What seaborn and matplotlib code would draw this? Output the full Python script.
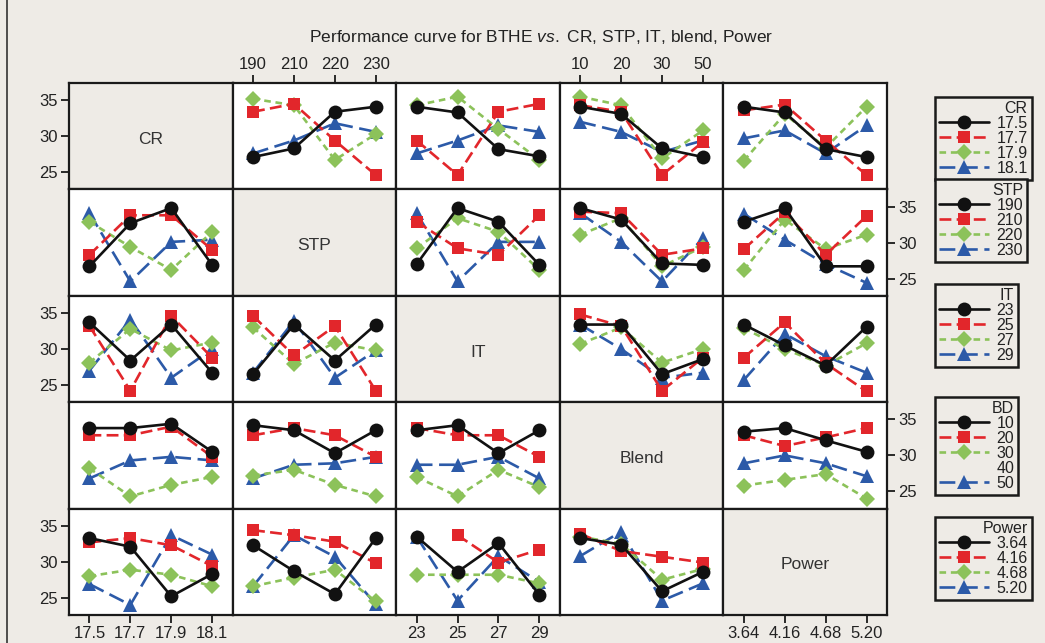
import numpy as np
import pandas as pd
import matplotlib
matplotlib.use("Agg")
import matplotlib.pyplot as plt
from matplotlib.lines import Line2D
import seaborn as sns

# factor names / levels
factors = ["CR", "STP", "IT", "Blend", "Power"]
legend_titles = ["CR", "STP", "IT", "BD", "Power"]
cr_levels = ["17.5", "17.7", "17.9", "18.1"]
stp_levels = ["190", "210", "220", "230"]
it_levels = ["23", "25", "27", "29"]
bd_levels = ["10", "20", "30", "50"]
pw_levels = ["3.64", "4.16", "4.68", "5.20"]
bd_legend_labels = ["10", "20", "30", "40", "50"]
levels = [cr_levels, stp_levels, it_levels, bd_levels, pw_levels]

nan = np.nan
# mean BTHE, rows = levels of the trace factor, columns = levels of the x factor
cr_by_stp = [[27.1, 28.3, 33.4, 34.1], [33.4, 34.5, 29.4, 24.6], [35.2, 34.3, 26.7, 30.3], [27.6, 29.4, 31.8, 30.6]]
cr_by_it = [[34.1, 33.3, 28.2, 27.2], [29.4, 24.6, 33.4, 34.5], [34.3, 35.5, 31.0, 26.7], [27.6, 29.4, 31.5, 30.6]]
cr_by_bd = [[34.1, 33.1, 28.3, 27.1], [34.3, 33.4, 24.6, 29.2], [35.5, 34.3, 26.9, 30.8], [32.0, 30.6, 27.8, 29.4]]
cr_by_pw = [[34.1, 33.3, 28.2, 27.1], [33.6, 34.4, 29.4, 24.6], [26.6, 33.1, 28.4, 34.1], [29.7, 30.8, 27.6, 31.5]]

stp_by_cr = [[26.7, 32.7, 34.8, 26.9], [28.3, 33.8, 33.8, 29.0], [32.9, 29.4, 26.2, 31.5], [34.1, 24.6, 30.1, 30.4]]
stp_by_it = [[27.0, 34.8, 32.9, 26.9], [32.9, 29.2, 28.3, 33.8], [29.2, 33.4, 31.5, 26.2], [34.1, 24.6, 30.1, 30.1]]
stp_by_bd = [[34.8, 33.2, 27.1, 26.9], [34.3, 34.1, 28.3, 29.2], [31.1, 33.4, 26.7, 29.4], [34.1, 30.1, 24.6, 30.6]]
stp_by_pw = [[32.9, 34.8, 26.7, 26.7], [29.1, 34.2, 28.3, 33.7], [26.2, 33.2, 29.1, 31.1], [34.0, 30.4, 27.0, 24.4]]

it_by_cr = [[33.7, 28.4, 33.4, 26.7], [33.2, 24.2, 34.6, 28.8], [28.1, 32.8, 29.8, 30.9], [27.0, 34.1, 26.0, 30.0]]
it_by_stp = [[26.5, 33.4, 28.4, 33.4], [34.6, 29.1, 33.2, 24.2], [33.0, 27.9, 30.9, 29.8], [26.7, 33.9, 26.0, 29.8]]
it_by_bd = [[33.4, 33.4, 26.5, 28.6], [34.8, 33.2, 24.2, 28.8], [30.7, 33.0, 28.1, 30.0], [33.4, 30.0, 26.0, 26.7]]
it_by_pw = [[33.4, 30.5, 27.7, 33.1], [28.8, 33.7, 28.0, 24.1], [32.9, 30.0, 27.7, 30.8], [25.7, 32.1, 29.0, 26.7]]

bd_by_cr = [[33.8, 33.8, 34.4, 30.5], [32.8, 32.8, 34.0, 29.8], [28.2, 24.3, 25.9, 27.0], [26.8, 29.3, 29.8, 29.3]]
bd_by_stp = [[34.2, 33.5, 30.3, 33.5], [32.8, 33.8, 32.8, 29.8], [27.2, 28.0, 25.9, 24.3], [26.8, 28.7, 28.9, 29.8]]
bd_by_it = [[33.5, 34.2, 30.3, 33.5], [33.8, 32.8, 32.8, 29.8], [27.0, 24.3, 28.0, 25.6], [28.7, 28.7, 29.8, 26.8]]
bd_by_pw = [[33.3, 33.8, 32.1, 30.5], [32.8, 31.3, 32.5, 33.8], [25.8, 26.6, 27.4, 24.0], [28.9, 30.0, 28.9, 27.1]]

pw_by_cr = [[33.3, 32.1, 25.2, 28.3], [32.7, 33.3, 32.3, 29.4], [28.0, 28.9, 28.2, 26.6], [26.9, 24.0, 33.7, 31.0]]
pw_by_stp = [[32.3, 28.7, 25.5, 33.3], [34.4, 33.7, 32.8, 29.8], [26.6, 27.8, 28.9, 24.5], [26.6, 33.7, 30.7, 24.1]]
pw_by_it = [[33.5, 28.6, 32.6, 25.4], [nan, 33.7, 29.9, 31.7], [28.2, 28.2, 28.2, 27.0], [33.5, 24.6, 30.8, 27.2]]
pw_by_bd = [[33.3, 32.4, 25.9, 28.6], [33.9, 31.5, 30.7, 29.9], [33.5, 32.5, 27.5, 29.0], [30.8, 34.2, 24.6, 27.0]]

panels = {
    (0, 1): cr_by_stp, (0, 2): cr_by_it, (0, 3): cr_by_bd, (0, 4): cr_by_pw,
    (1, 0): stp_by_cr, (1, 2): stp_by_it, (1, 3): stp_by_bd, (1, 4): stp_by_pw,
    (2, 0): it_by_cr, (2, 1): it_by_stp, (2, 3): it_by_bd, (2, 4): it_by_pw,
    (3, 0): bd_by_cr, (3, 1): bd_by_stp, (3, 2): bd_by_it, (3, 4): bd_by_pw,
    (4, 0): pw_by_cr, (4, 1): pw_by_stp, (4, 2): pw_by_it, (4, 3): pw_by_bd,
}

colors = ["#111111", "#E2262B", "#8CC25A", "#2C5AA8"]
marks = ["o", "s", "D", "^"]
msizes = {"o": 10, "s": 8, "D": 8.5, "^": 10}
dash_list = ["", (4.5, 2), (2.5, 1.8), (6, 2.5)]

sns.set_theme(style="ticks")
plt.rcParams["font.family"] = ["Liberation Sans", "DejaVu Sans"]
plt.rcParams["mathtext.fontset"] = "custom"
plt.rcParams["mathtext.rm"] = "Liberation Sans"
plt.rcParams["mathtext.it"] = "Liberation Sans:italic"

bg = "#EEEBE6"
W, H = 1045, 643
fig, axes = plt.subplots(5, 5, figsize=(W / 100, H / 100), dpi=100,
                         gridspec_kw=dict(left=69 / W, right=887 / W, top=1 - 83 / H,
                                          bottom=1 - 615 / H, wspace=0, hspace=0))
fig.patch.set_facecolor(bg)

for r in range(5):
    for c in range(5):
        ax = axes[r, c]
        if r == c:
            ax.set_facecolor(bg)
            ax.text(0.5, 0.47, factors[r], transform=ax.transAxes, ha="center", va="center",
                    fontsize=12.5, color="#333333")
        else:
            ax.set_facecolor("white")
            tr = levels[r]
            vals = np.array(panels[(r, c)], dtype=float)
            df = pd.DataFrame({
                "pos": np.tile(np.arange(4), 4),
                "level": np.repeat(tr, 4),
                "bthe": vals.ravel(),
            })
            order = tr[::-1]
            sns.lineplot(data=df, x="pos", y="bthe", hue="level", style="level",
                         hue_order=order, style_order=order,
                         palette=dict(zip(tr, colors)), markers=dict(zip(tr, marks)),
                         dashes=dict(zip(tr, dash_list)), estimator=None, sort=False,
                         lw=1.9, markeredgewidth=0, legend=False, ax=ax)
            for ln in ax.lines:
                ln.set_markersize(msizes.get(ln.get_marker(), 9))
        ax.set_xlim(-0.5, 3.5)
        ax.set_ylim(22.6, 37.4)
        ax.set_xlabel("")
        ax.set_ylabel("")
        ax.set_xticks([])
        ax.set_yticks([])
        for s in ax.spines.values():
            s.set_color("#1a1a1a")
            s.set_linewidth(1.6)

        tick_kw = dict(length=6, width=1.3, color="#1a1a1a", labelsize=12, labelcolor="#222222", pad=2)
        if r == 4 and c in (0, 2, 4):
            ax.set_xticks(range(4), levels[c])
            ax.tick_params(axis="x", bottom=True, **tick_kw)
        if r == 0 and c in (1, 3):
            ax.xaxis.tick_top()
            ax.set_xticks(range(4), levels[c])
            ax.tick_params(axis="x", top=True, **tick_kw)
        if c == 0 and r in (0, 2, 4):
            ax.set_yticks([25, 30, 35])
            ax.tick_params(axis="y", left=True, **tick_kw)
        if c == 4 and r in (1, 3):
            ax.yaxis.tick_right()
            ax.set_yticks([25, 30, 35])
            ax.tick_params(axis="y", right=True, **tick_kw)

fig.text(541 / W, 1 - 37 / H, r"Performance curve for BTHE $\it{vs.}$ CR, STP, IT, blend, Power",
         ha="center", va="center", fontsize=12.5, color="#222222")

# legends, one per row
legend_tops = [97, 179, 284, 397, 517]
for r in range(5):
    handles = [Line2D([], [], color=colors[k], marker=marks[k], markersize=msizes[marks[k]],
                      markeredgewidth=0, lw=1.9,
                      ls="-" if k == 0 else (0, dash_list[k]))
               for k in range(4)]
    labels = list(levels[r])
    if r == 3:
        blank = Line2D([], [], color="none", lw=0)
        handles = handles[:3] + [blank, handles[3]]
        labels = bd_legend_labels
    lg = fig.legend(handles, labels, title=legend_titles[r], loc="upper left",
                    bbox_to_anchor=(935 / W, 1 - legend_tops[r] / H), bbox_transform=fig.transFigure,
                    frameon=True, fancybox=False, edgecolor="#1a1a1a", facecolor=bg, framealpha=1,
                    fontsize=11.5, title_fontsize=11.5, handlelength=3.1, handletextpad=0.5,
                    labelspacing=0.0, borderpad=0.25, borderaxespad=0, alignment="right")
    lg.get_frame().set_linewidth(1.8)
    for t in lg.get_texts():
        t.set_color("#222222")
    lg.get_title().set_color("#222222")

fig.add_artist(Line2D([7 / W, 7 / W], [0, 1], transform=fig.transFigure, color="#333333", lw=1.2))

fig.savefig("out.png", dpi=100, facecolor=bg)
